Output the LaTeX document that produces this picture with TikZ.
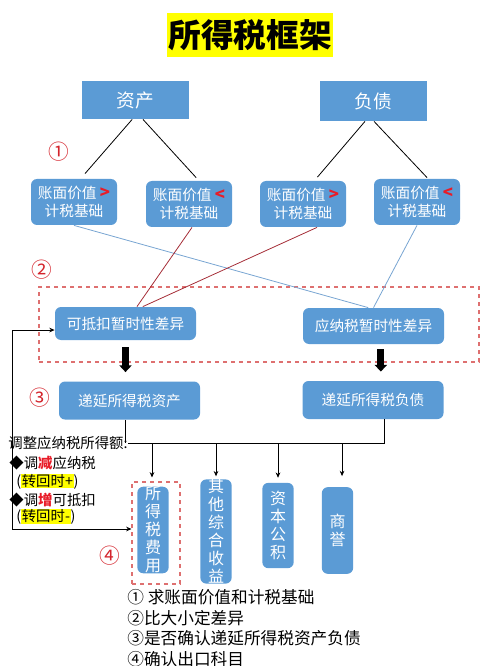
\documentclass[tikz,border=0pt]{standalone}
\usepackage{fontspec}
\setmainfont{Noto Sans CJK SC}
\usetikzlibrary{arrows.meta}
\definecolor{boxblue}{RGB}{91,155,213}
\definecolor{markred}{RGB}{232,28,40}
\definecolor{numred}{RGB}{212,36,44}
\definecolor{dashred}{RGB}{222,112,112}
\definecolor{lineblue}{RGB}{120,165,210}
\definecolor{linered}{RGB}{165,45,55}
\definecolor{hlyellow}{RGB}{255,255,0}
\newcommand{\hlt}[1]{{\setlength{\fboxsep}{0.4pt}\colorbox{hlyellow}{#1}}}
\newcommand{\mkgt}{{\color{markred}\bfseries\fontsize{12.5}{13.5}\selectfont >}}
\newcommand{\mklt}{{\color{markred}\bfseries\fontsize{12.5}{13.5}\selectfont <}}
\begin{document}
\begin{tikzpicture}[x=0.75pt,y=-0.75pt,>={Stealth[length=4pt,width=3.5pt]},line width=0.6pt]
	\tikzstyle{head}=[fill=boxblue, text=white, font=\fontsize{14}{16}\selectfont, minimum width=80pt, inner sep=0pt]
	\tikzstyle{cmp}=[fill=boxblue, text=white, rounded corners=4.5pt, align=center, font=\fontsize{11}{13.5}\selectfont, minimum width=64.5pt, minimum height=34.5pt, inner sep=0pt]
	\tikzstyle{wide}=[fill=boxblue, text=white, rounded corners=4.5pt, font=\fontsize{11}{13}\selectfont, minimum width=105.75pt, inner sep=0pt]
	\tikzstyle{tall}=[fill=boxblue, text=white, rounded corners=4.5pt, align=center, font=\fontsize{12}{13.5}\selectfont, minimum width=23.5pt, inner sep=0pt]
	\tikzstyle{num}=[text=numred, font=\fontsize{15.5}{15.5}\selectfont, inner sep=0pt]
	\tikzstyle{redbox}=[draw=dashred, dashed, line width=0.8pt, inner sep=0pt]
	\tikzstyle{note}=[anchor=west, inner sep=0pt, font=\fontsize{10.8}{12}\selectfont]
	\tikzstyle{bigarrow}=[line width=5.25pt, -{Triangle[width=9pt,length=5pt]}]
	\useasboundingbox (0,0) rectangle (500,666);
	\node[fill=hlyellow, font=\fontsize{24.5}{24.5}\selectfont\bfseries, minimum width=124.5pt, minimum height=33pt, inner sep=0pt] (Title) at (250,35) {所得税框架};
	\node[head, minimum height=28.5pt] (Asset) at (135.5,100) {资产};
	\node[head, minimum height=30pt] (Liab) at (373.5,101) {负债};
	\node[num] (N1) at (59,152) {①};
	\node[cmp] (AGt) at (74,202) {账面价值 \mkgt\\计税基础};
	\node[cmp] (ALt) at (189,204) {账面价值 \mklt\\计税基础};
	\node[cmp] (LGt) at (303,204) {账面价值 \mkgt\\计税基础};
	\node[cmp] (LLt) at (417,202) {账面价值 \mklt\\计税基础};
	\draw[shorten >=5pt] ([xshift=-2.5pt]Asset.south) -- ([xshift=5pt]AGt.north);
	\draw[shorten >=3pt] ([xshift=5.6pt]Asset.south) -- ([xshift=7.4pt]ALt.north);
	\draw[shorten >=3.5pt] ([xshift=-6.4pt]Liab.south) -- ([xshift=8.6pt]LGt.north);
	\draw[shorten >=1pt] ([xshift=0.4pt]Liab.south) -- ([xshift=8.25pt]LLt.north);
	\node[num] (N2) at (42,270) {②};
	\node[redbox, minimum width=330pt, minimum height=56.25pt] (Diff) at (259,324.5) {};
	\node[wide, minimum height=24.75pt] (Ktd) at (125.5,323.5) {可抵扣暂时性差异};
	\node[wide, minimum height=27pt] (Ytd) at (373.5,326) {应纳税暂时性差异};
	\draw[lineblue] (AGt.south) -- ([xshift=-4pt]Ytd.north);
	\draw[linered] ([xshift=2.25pt]ALt.south) -- ([xshift=8.6pt]Ktd.north);
	\draw[linered] ([xshift=10.5pt]LGt.south) -- ([xshift=13pt]Ktd.north);
	\draw[lineblue] (LLt.south) -- (Ytd.north);
	\node[num] (N3) at (40,398) {③};
	\node[wide, minimum height=28.5pt] (Dta) at (129.5,400.5) {递延所得税资产};
	\node[wide, minimum height=28.5pt] (Dtl) at (373,400) {递延所得税负债};
	\draw[bigarrow, shorten <=5.25pt, shorten >=6.75pt] (Ktd.south) -- (Ktd.south |- Dta.north);
	\draw[bigarrow, shorten <=3.75pt, shorten >=6.75pt] ([xshift=5.5pt]Ytd.south) -- ([xshift=5.5pt]Ytd.south |- Dtl.north);
	\node[note] (Adj) at (8,443) {调整应纳税所得额:};
	\node[note] (Dec) at (9,463) {◆调{\color{markred}\bfseries 减}应纳税};
	\node[note] (DecR) at (16,481.5) {(\hlt{转回时+})};
	\node[note] (Inc) at (9,500) {◆调{\color{markred}\bfseries 增}可抵扣};
	\node[note] (IncR) at (16,517) {(\hlt{转回时-})};
	\node[redbox, minimum width=36pt, minimum height=76.5pt] (TaxBox) at (156,533) {};
	\node[tall, minimum height=64.5pt] (Tax) at (153,530) {所\\得\\税\\费\\用};
	\node[tall, minimum height=77pt] (Oci) at (216,531.5) {其\\他\\综\\合\\收\\益};
	\node[tall, minimum height=64pt] (Cap) at (278,525.5) {资\\本\\公\\积};
	\node[tall, minimum height=65pt] (Gw) at (337.5,530.5) {商\\誉};
	\node[num] (N4) at (110,556) {④};
	\coordinate (Bus) at (384.3,443);
	\coordinate (Corner) at (12,529);
	\draw ([xshift=-3.4pt]Dta.south) -- ([xshift=-3.4pt]Dta.south |- Bus);
	\draw ([xshift=8.5pt]Dtl.south) |- (Bus);
	\draw (Adj.east) -- (Bus);
	\draw[->, shorten >=3pt] ([xshift=-3pt]TaxBox.north |- Bus) -- ([xshift=-3pt]TaxBox.north);
	\draw[->, shorten >=2pt] (Oci.north |- Bus) -- (Oci.north);
	\draw[->, shorten >=3.5pt] (Cap.north |- Bus) -- (Cap.north);
	\draw[->, shorten >=8pt] ([xshift=3.4pt]Gw.north |- Bus) -- ([xshift=3.4pt]Gw.north);
	\draw[<->] ([yshift=-4.9pt]Ktd.west) -| (Corner) -- (Corner -| TaxBox.west);
	\node[anchor=west, align=left, inner sep=0pt, font=\fontsize{12.5}{15.5}\selectfont] (Steps) at (127,628) {① 求账面价值和计税基础\\②比大小定差异\\③是否确认递延所得税资产负债\\④确认出口科目};
\end{tikzpicture}
\end{document}
